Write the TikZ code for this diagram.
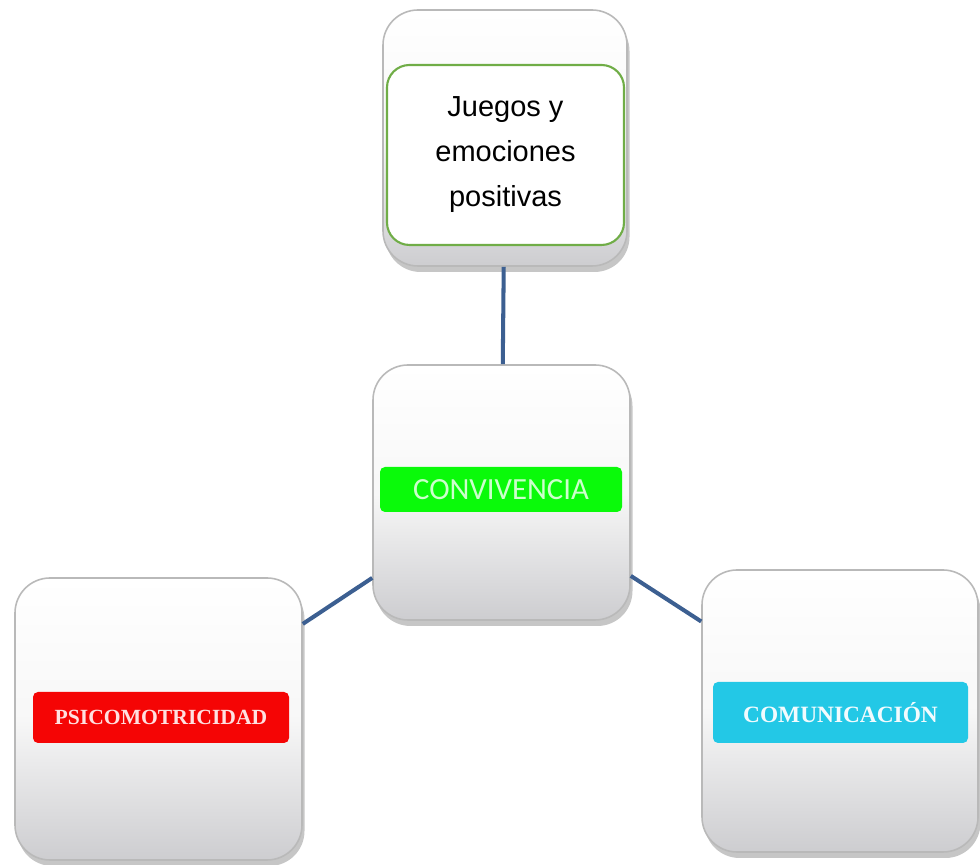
\documentclass[tikz,border=0pt]{standalone}
\usepackage{fontspec}
\setmainfont{Liberation Sans}
\newfontfamily\calfont{Carlito}
\newfontfamily\timesfont{Liberation Serif}
\usepackage{tikz}
\usetikzlibrary{shadows}

\definecolor{linkblue}{RGB}{60,95,145}
\definecolor{leafgreen}{RGB}{112,173,71}
\definecolor{bandgreen}{RGB}{10,250,10}
\definecolor{bandred}{RGB}{245,5,5}
\definecolor{bandcyan}{RGB}{35,200,230}
\definecolor{boxgray}{RGB}{205,205,208}

\begin{document}
\begin{tikzpicture}[
    bevelbox/.style={rectangle, rounded corners=0.7cm, draw=gray!55, line width=0.9pt,
      top color=white, bottom color=boxgray, middle color=white!94!gray,
      drop shadow={opacity=0.45, shadow xshift=0.05cm, shadow yshift=-0.12cm}},
    band/.style={rectangle, rounded corners=0.1cm, inner sep=0pt},
    link/.style={draw=linkblue, line width=2.3pt}
  ]
      \useasboundingbox (0,0) rectangle (19.6,17.3);

      % outer boxes
      \node (top) [bevelbox, minimum width=4.88cm, minimum height=5.12cm] at (10.1,14.54) {};
      \node (conv) [bevelbox, minimum width=5.14cm, minimum height=5.1cm] at (10.03,7.45) {};
      \node (psico) [bevelbox, minimum width=5.74cm, minimum height=5.64cm] at (3.17,2.92) {};
      \node (comun) [bevelbox, minimum width=5.52cm, minimum height=5.64cm] at (16.8,3.08) {};

      % labels inside the boxes
      \node (juegos) [rectangle, rounded corners=0.45cm, draw=leafgreen, line width=1.2pt, fill=white,
        minimum width=4.74cm, minimum height=3.6cm, align=center,
        font=\fontsize{16.5}{25.6}\selectfont] at (10.11,14.2) {Juegos y\\emociones\\positivas};
      \node (convband) [band, fill=bandgreen, minimum width=4.84cm, minimum height=0.9cm,
        text=green!20!white, font=\calfont\fontsize{17.5}{20}\selectfont] at (10.02,7.51) {CONVIVENCIA};
      \node (psicoband) [band, fill=bandred, minimum width=5.12cm, minimum height=1.02cm,
        text=red!12!white, font=\timesfont\bfseries\fontsize{12.3}{14}\selectfont] at (3.22,2.95) {PSICOMOTRICIDAD};
      \node (comunband) [band, fill=bandcyan, minimum width=5.1cm, minimum height=1.22cm,
        text=cyan!5!white, font=\timesfont\bfseries\fontsize{13.3}{15}\selectfont] at (16.81,3.05) {COMUNICACIÓN};

      % connectors
      \draw[link] (top) -- (conv);
      \draw[link] (conv) -- (psico);
      \draw[link] (conv) -- (comun);
\end{tikzpicture}
\end{document}
